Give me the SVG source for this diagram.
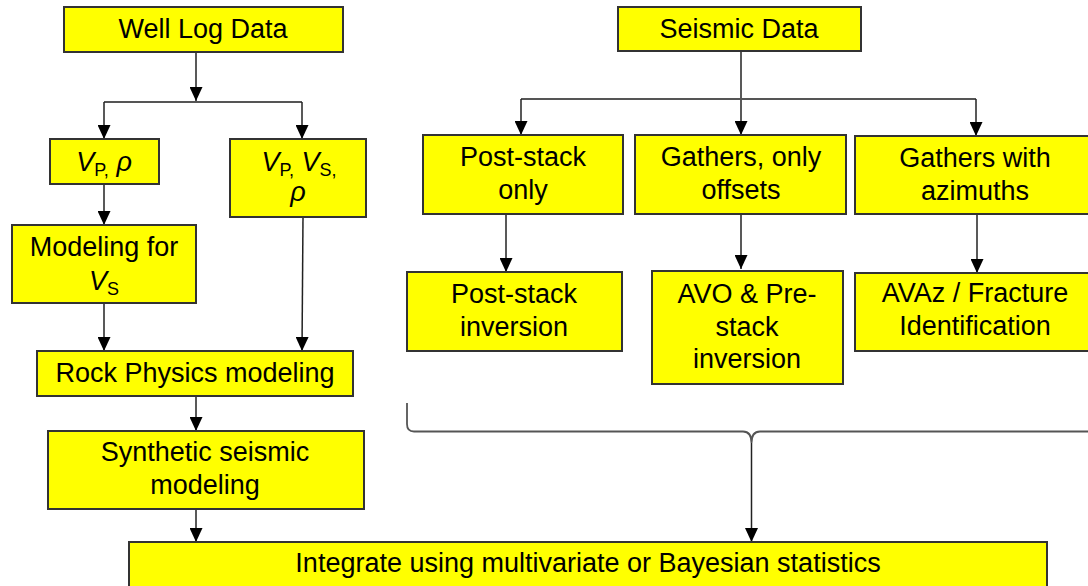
<svg xmlns="http://www.w3.org/2000/svg" width="1088" height="586" viewBox="0 0 1088 586">
<style>
.box{fill:#FFFF00;stroke:#333;stroke-width:2}
.t{font-family:"Liberation Sans",Arial,sans-serif;font-size:27px;fill:#000;text-anchor:middle}
.i{font-style:italic}
.sub{font-size:18px}
.c{fill:none;stroke:#222;stroke-width:1.5}
.h{fill:none;stroke:#555;stroke-width:1.8}
</style>
<defs>
<marker id="ah" markerUnits="userSpaceOnUse" markerWidth="14" markerHeight="13" refX="14" refY="6.5" orient="auto">
<path d="M0,0 L14,6.5 L0,13 z" fill="#000"/>
</marker>
</defs>
<rect width="1088" height="586" fill="#fff"/>
<g id="connectors">
<path class="c" d="M196,52 V101" marker-end="url(#ah)"/>
<path class="h" d="M104,102 H302"/>
<path class="c" d="M104,102 V139" marker-end="url(#ah)"/>
<path class="c" d="M302,102 V139" marker-end="url(#ah)"/>
<path class="c" d="M104,184 V225" marker-end="url(#ah)"/>
<path class="c" d="M104,303 V351" marker-end="url(#ah)"/>
<path class="c" d="M303,217 L302,351" marker-end="url(#ah)"/>
<path class="c" d="M196,396 V431" marker-end="url(#ah)"/>
<path class="c" d="M196,509 V542" marker-end="url(#ah)"/>
<path class="c" d="M741,51 V135" marker-end="url(#ah)"/>
<path class="h" d="M521,99 H976"/>
<path class="c" d="M521,99 V135" marker-end="url(#ah)"/>
<path class="c" d="M976,99 V136" marker-end="url(#ah)"/>
<path class="c" d="M506,214 V272" marker-end="url(#ah)"/>
<path class="c" d="M741,214 V269" marker-end="url(#ah)"/>
<path class="c" d="M977,214 V273" marker-end="url(#ah)"/>
<path class="h" d="M407,403 V424 Q407,431.5 414,431.5 H743 Q751.5,431.5 751.5,443 Q751.5,431.5 760,431.5 H1090"/>
<path class="c" d="M751.5,443 V542" marker-end="url(#ah)"/>
</g>
<g id="well-log-data">
<rect class="box" x="64" y="7" width="279" height="45"/>
<text class="t" x="203" y="38">Well Log Data</text>
</g>
<g id="vp-rho">
<rect class="box" x="50" y="139" width="109" height="45"/>
<text class="t" x="104" y="171"><tspan class="i">V</tspan><tspan class="sub" dy="5">P,</tspan><tspan dy="-5"> </tspan><tspan class="i">ρ</tspan></text>
</g>
<g id="vp-vs-rho">
<rect class="box" x="230" y="139" width="136" height="78"/>
<text class="t" x="299" y="171"><tspan class="i">V</tspan><tspan class="sub" dy="5">P,</tspan><tspan dy="-5"> </tspan><tspan class="i">V</tspan><tspan class="sub" dy="5">S,</tspan></text>
<text class="t i" x="298" y="201">ρ</text>
</g>
<g id="modeling-vs">
<rect class="box" x="12" y="225" width="184" height="78"/>
<text class="t" x="104" y="256">Modeling for</text>
<text class="t" x="104" y="290"><tspan class="i">V</tspan><tspan class="sub" dy="5">S</tspan></text>
</g>
<g id="rock-physics">
<rect class="box" x="37" y="351" width="316" height="45"/>
<text class="t" x="195" y="382">Rock Physics modeling</text>
</g>
<g id="synthetic">
<rect class="box" x="48" y="431" width="316" height="78"/>
<text class="t" x="205" y="461">Synthetic seismic</text>
<text class="t" x="205" y="494">modeling</text>
</g>
<g id="seismic-data">
<rect class="box" x="618" y="7" width="243" height="44"/>
<text class="t" x="739" y="38">Seismic Data</text>
</g>
<g id="post-stack-only">
<rect class="box" x="423" y="135" width="200" height="79"/>
<text class="t" x="523" y="166">Post-stack</text>
<text class="t" x="523" y="199">only</text>
</g>
<g id="gathers-offsets">
<rect class="box" x="635" y="135" width="211" height="79"/>
<text class="t" x="741" y="166">Gathers, only</text>
<text class="t" x="741" y="199">offsets</text>
</g>
<g id="gathers-azimuths">
<rect class="box" x="855" y="136" width="240" height="78"/>
<text class="t" x="975" y="167">Gathers with</text>
<text class="t" x="975" y="200">azimuths</text>
</g>
<g id="post-stack-inversion">
<rect class="box" x="407" y="272" width="215" height="79"/>
<text class="t" x="514" y="303">Post-stack</text>
<text class="t" x="514" y="336">inversion</text>
</g>
<g id="avo-prestack">
<rect class="box" x="652" y="271" width="191" height="113"/>
<text class="t" x="747" y="303">AVO &amp; Pre-</text>
<text class="t" x="747" y="336">stack</text>
<text class="t" x="747" y="368">inversion</text>
</g>
<g id="avaz-fracture">
<rect class="box" x="855" y="273" width="240" height="78"/>
<text class="t" x="975" y="302">AVAz / Fracture</text>
<text class="t" x="975" y="335">Identification</text>
</g>
<g id="integrate">
<rect class="box" x="129" y="542" width="918" height="60"/>
<text class="t" x="588" y="572">Integrate using multivariate  or Bayesian statistics</text>
</g>
</svg>
